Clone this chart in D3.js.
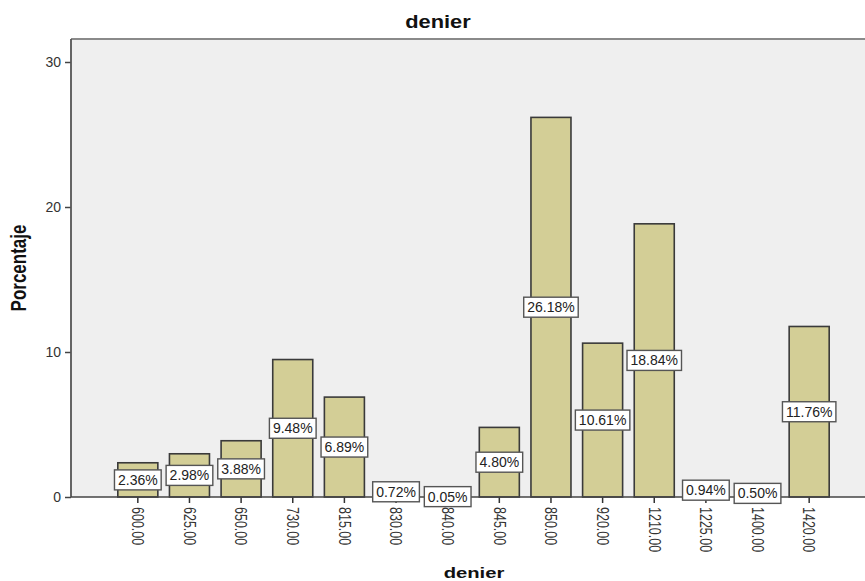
<!DOCTYPE html>
<html>
<head>
<meta charset="utf-8">
<script src="https://cdn.jsdelivr.net/npm/d3@7/dist/d3.min.js"></script>
<style>
  html, body { margin: 0; padding: 0; background: #ffffff; }
  svg { display: block; }
  text { font-family: "Liberation Sans", Arial, sans-serif; }
</style>
</head>
<body>
<svg id="chart" width="865" height="581"></svg>
<script>
// ---- data ----
const categories = ["600.00", "625.00", "650.00", "730.00", "815.00", "830.00", "840.00",
                    "845.00", "850.00", "920.00", "1210.00", "1225.00", "1400.00", "1420.00"];
const percentages = [2.36, 2.98, 3.88, 9.48, 6.89, 0.72, 0.05, 4.80, 26.18, 10.61, 18.84, 0.94, 0.50, 11.76];
const yTickValues = [0, 10, 20, 30];
const chartTitle = "denier";
const xTitle = "denier";
const yTitle = "Porcentaje";

// ---- layout ----
const W = 865, H = 581;
const plot = { left: 71, top: 39, right: 878, bottom: 497 };

const svg = d3.select("#chart");

const x = d3.scaleBand()
  .domain(categories)
  .range([112, 835])
  .paddingInner(0.225)
  .paddingOuter(0.1125);

const y = d3.scaleLinear()
  .domain([0, 30])
  .range([plot.bottom, 62]);

// plot background
svg.append("rect")
  .attr("x", plot.left).attr("y", plot.top)
  .attr("width", plot.right - plot.left).attr("height", plot.bottom - plot.top)
  .attr("fill", "#efefef");

// top frame line
svg.append("line")
  .attr("x1", plot.left).attr("x2", plot.right)
  .attr("y1", plot.top).attr("y2", plot.top)
  .attr("stroke", "#8a8a8a").attr("stroke-width", 2);

// title
svg.append("text")
  .attr("transform", "translate(438,28) scale(1.15,1)")
  .attr("text-anchor", "middle")
  .attr("font-size", 19)
  .attr("font-weight", "bold")
  .attr("fill", "#111")
  .text(chartTitle);

// bars
svg.append("g").selectAll("rect")
  .data(percentages)
  .join("rect")
  .attr("x", (d, i) => x(categories[i]))
  .attr("y", d => y(d))
  .attr("width", x.bandwidth())
  .attr("height", d => y(0) - y(d))
  .attr("fill", "#d3ce96")
  .attr("stroke", "#3a3a3a")
  .attr("stroke-width", 1.6);

// y axis
const yAxis = d3.axisLeft(y).tickValues(yTickValues).tickSize(6).tickPadding(4).tickFormat(d3.format("d"));
const gy = svg.append("g")
  .attr("transform", `translate(${plot.left},0)`)
  .call(yAxis);
gy.select(".domain").remove();
gy.selectAll(".tick line").attr("stroke", "#444").attr("stroke-width", 1.5);
gy.selectAll(".tick text")
  .attr("font-size", 14)
  .attr("fill", "#333")
  .attr("font-family", "Liberation Sans, Arial, sans-serif");
svg.append("line")
  .attr("x1", plot.left).attr("x2", plot.left)
  .attr("y1", plot.top).attr("y2", plot.bottom)
  .attr("stroke", "#555").attr("stroke-width", 1.8);

// x axis
const xAxis = d3.axisBottom(x).tickSize(6).tickSizeOuter(0);
const gx = svg.append("g")
  .attr("transform", `translate(0,${plot.bottom})`)
  .call(xAxis);
gx.select(".domain").remove();
gx.selectAll(".tick line").attr("stroke", "#333").attr("stroke-width", 1.5);
gx.selectAll(".tick text")
  .attr("font-size", 12.5)
  .attr("fill", "#333")
  .attr("font-family", "Liberation Sans, Arial, sans-serif")
  .attr("text-anchor", "start")
  .attr("x", 0).attr("y", 0).attr("dy", "0.35em")
  .attr("transform", "translate(0,10) rotate(90) scale(1,1.3)");
svg.append("line")
  .attr("x1", plot.left).attr("x2", plot.right)
  .attr("y1", plot.bottom).attr("y2", plot.bottom)
  .attr("stroke", "#444").attr("stroke-width", 1.6);

// value labels
const labels = svg.append("g").selectAll("g")
  .data(percentages)
  .join("g")
  .attr("transform", (d, i) => `translate(${x(categories[i]) + x.bandwidth() / 2},${y(d / 2)})`);

labels.append("text")
  .attr("text-anchor", "middle")
  .attr("dy", "0.36em")
  .attr("font-size", 14)
  .attr("fill", "#222")
  .text(d => d.toFixed(2) + "%")
  .each(function () {
    const bb = this.getBBox();
    d3.select(this.parentNode).insert("rect", "text")
      .attr("x", bb.x - 3.5)
      .attr("y", -10)
      .attr("width", bb.width + 7)
      .attr("height", 20)
      .attr("fill", "#ffffff")
      .attr("stroke", "#555")
      .attr("stroke-width", 1.4);
  });

// axis titles
svg.append("text")
  .attr("transform", "translate(474,578) scale(1.35,1)")
  .attr("text-anchor", "middle")
  .attr("font-size", 15)
  .attr("font-weight", "bold")
  .attr("fill", "#111")
  .text(xTitle);

svg.append("text")
  .attr("transform", "translate(26,268) rotate(-90) scale(1,1.3)")
  .attr("text-anchor", "middle")
  .attr("font-size", 17)
  .attr("font-weight", "bold")
  .attr("fill", "#111")
  .text(yTitle);
</script>
</body>
</html>
